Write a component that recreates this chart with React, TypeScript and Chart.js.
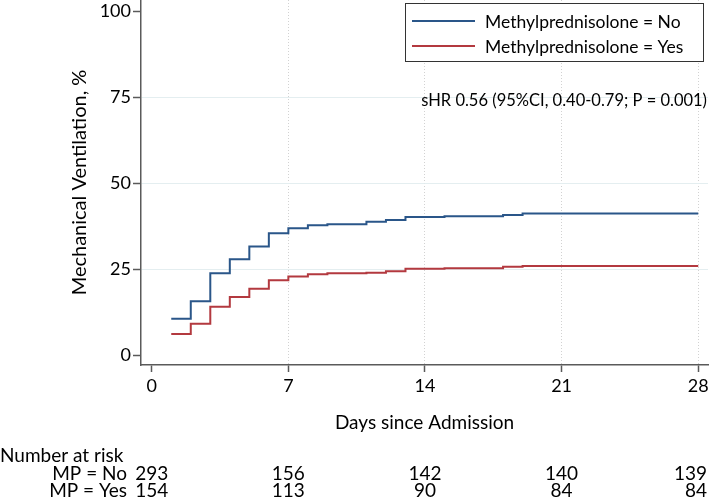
import React, { useEffect, useRef } from 'react';
import { Chart, registerables } from 'chart.js';

Chart.register(...registerables);

// ---- data ----
const eventDays = [1, 2, 3, 4, 5, 6, 7, 8, 9, 11, 12, 13, 15, 18, 19, 28];
const mpNo = [10.6, 15.7, 23.8, 27.9, 31.6, 35.5, 36.9, 37.8, 38.1, 38.8, 39.3, 40.2, 40.4, 40.8, 41.2, 41.2];
const mpYes = [6.1, 9.1, 14.1, 16.9, 19.3, 21.8, 22.9, 23.5, 23.8, 24.0, 24.4, 25.1, 25.3, 25.7, 25.9, 25.9];
const seriesLabels = ['Methylprednisolone = No', 'Methylprednisolone = Yes'];
const seriesColors = ['#2a5689', '#b3393f'];
const xTicks = [0, 7, 14, 21, 28];
const yTicks = [0, 25, 50, 75, 100];
const riskDays = [0, 7, 14, 21, 28];
const riskNo = [293, 156, 142, 140, 139];
const riskYes = [154, 113, 90, 84, 84];
const riskLabels = ['MP = No', 'MP = Yes'];
const riskTitle = 'Number at risk';
const annotationText = 'sHR 0.56 (95%CI, 0.40-0.79; P = 0.001)';

const FONT = 'Lato, "Noto Sans", sans-serif';

const overlayPlugin = {
  id: 'overlay',
  afterDraw(chart: any) {
    const ctx = chart.ctx as CanvasRenderingContext2D;
    const xs = chart.scales.x;
    ctx.save();

    // legend box
    const bx = 405.5, by = 3.5, bw = 298, bh = 58;
    ctx.fillStyle = '#ffffff';
    ctx.fillRect(bx, by, bw, bh);
    ctx.strokeStyle = '#333333';
    ctx.lineWidth = 1;
    ctx.strokeRect(bx, by, bw, bh);
    chart.data.datasets.forEach((ds: any, i: number) => {
      const y = 21 + i * 25;
      ctx.strokeStyle = ds.borderColor;
      ctx.lineWidth = 1.8;
      ctx.beginPath();
      ctx.moveTo(412, y);
      ctx.lineTo(475, y);
      ctx.stroke();
      ctx.fillStyle = '#000';
      ctx.font = `17.5px ${FONT}`;
      ctx.textAlign = 'left';
      ctx.textBaseline = 'middle';
      ctx.fillText(ds.label, 485, y + 1);
    });

    // annotation
    ctx.fillStyle = '#000';
    ctx.font = `16.5px ${FONT}`;
    ctx.textAlign = 'right';
    ctx.textBaseline = 'middle';
    ctx.fillText(annotationText, 707, 101);

    // number at risk table
    ctx.font = `19px ${FONT}`;
    ctx.textBaseline = 'alphabetic';
    ctx.textAlign = 'left';
    ctx.fillText(riskTitle, 0, 462);
    const rows = [riskNo, riskYes];
    rows.forEach((vals, r) => {
      const y = 480 + r * 17;
      ctx.textAlign = 'right';
      ctx.fillText(riskLabels[r], 127, y);
      ctx.textAlign = 'center';
      vals.forEach((v, i) => {
        const txt = String(v);
        const w = ctx.measureText(txt).width;
        let px = xs.getPixelForValue(riskDays[i]);
        px = Math.min(px, 707 - w / 2);
        ctx.fillText(txt, px, y);
      });
    });
    ctx.restore();
  },
};

export default function App() {
  const ref = useRef<HTMLCanvasElement>(null);

  useEffect(() => {
    Chart.defaults.font.family = FONT;
    const chart = new Chart(ref.current!, {
      type: 'line',
      data: {
        datasets: [
          {
            label: seriesLabels[0],
            data: eventDays.map((d, i) => ({ x: d, y: mpNo[i] })),
            borderColor: seriesColors[0],
            borderWidth: 2,
            stepped: 'before',
            pointRadius: 0,
            fill: false,
          },
          {
            label: seriesLabels[1],
            data: eventDays.map((d, i) => ({ x: d, y: mpYes[i] })),
            borderColor: seriesColors[1],
            borderWidth: 2,
            stepped: 'before',
            pointRadius: 0,
            fill: false,
          },
        ],
      },
      options: {
        responsive: false,
        animation: false,
        layout: { padding: { left: 0, right: 1, top: 0, bottom: 0 } },
        plugins: { legend: { display: false }, tooltip: { enabled: false } },
        scales: {
          x: {
            type: 'linear',
            min: -0.55,
            max: 28.5,
            afterBuildTicks: (s: any) => {
              s.ticks = xTicks.map((v) => ({ value: v }));
            },
            afterFit: (s: any) => {
              s.height = 133;
              s.paddingLeft = 0;
              s.paddingRight = 0;
            },
            grid: {
              color: (c: any) => (c.tick && c.tick.value === 0 ? 'rgba(0,0,0,0)' : '#d2d2d2'),
              lineWidth: 1,
              tickLength: 7,
              tickColor: '#5a5a5a',
              tickWidth: 1.5,
            },
            border: { color: '#5a5a5a', width: 1.5, dash: [1, 2] },
            ticks: { padding: 3, color: '#000', font: { size: 18 }, maxRotation: 0, autoSkip: false },
            title: {
              display: true,
              text: 'Days since Admission',
              color: '#000',
              font: { size: 19 },
              padding: { top: 0, bottom: 63.5 },
            },
          },
          y: {
            type: 'linear',
            min: -2.9,
            max: 103.4,
            afterBuildTicks: (s: any) => {
              s.ticks = yTicks.map((v) => ({ value: v }));
            },
            afterFit: (s: any) => {
              s.width = 141;
              s.paddingTop = 0;
              s.paddingBottom = 0;
            },
            grid: {
              color: (c: any) =>
                c.tick && (c.tick.value === 0 || c.tick.value === 100) ? 'rgba(0,0,0,0)' : '#e4eef0',
              lineWidth: 1,
              tickLength: 8,
              tickColor: '#5a5a5a',
              tickWidth: 1.5,
            },
            border: { color: '#5a5a5a', width: 1.5 },
            ticks: { padding: 2, color: '#000', font: { size: 18 }, autoSkip: false },
            title: {
              display: true,
              text: 'Mechanical Ventilation, %',
              color: '#000',
              font: { size: 20 },
              padding: { top: 68, bottom: 0 },
            },
          },
        },
      },
      plugins: [overlayPlugin],
    } as any);
    return () => chart.destroy();
  }, []);

  return (
    <div style={{ position: 'absolute', left: 0, top: 0, width: 709, height: 498 }}>
      <canvas ref={ref} width={709} height={498} style={{ width: 709, height: 498, display: 'block' }} />
    </div>
  );
}
